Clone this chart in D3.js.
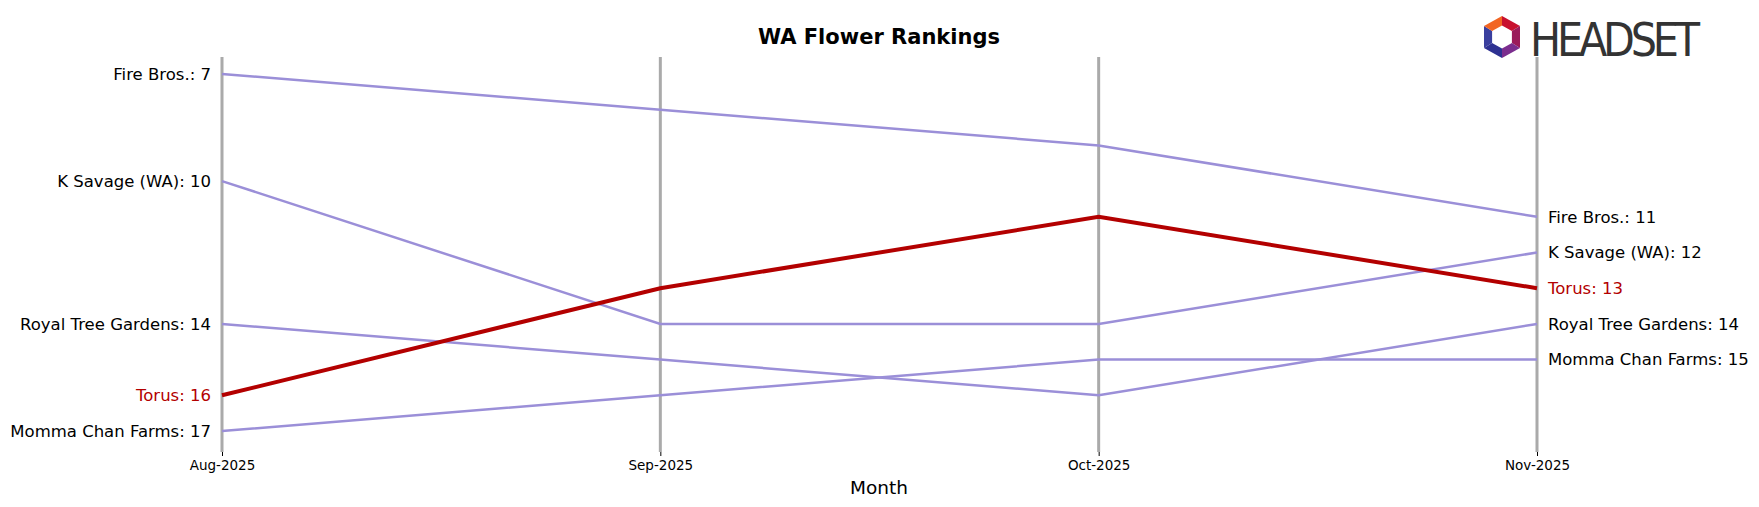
<!DOCTYPE html>
<html><head><meta charset="utf-8">
<script src="https://cdn.jsdelivr.net/npm/d3@7"></script>
<style>body{margin:0;background:#fff}svg{font-family:"DejaVu Sans",sans-serif}</style>
</head><body><svg id="c" width="1759" height="507"></svg>
<script>
const months=["Aug-2025","Sep-2025","Oct-2025","Nov-2025"];
const brands=["Fire Bros.","K Savage (WA)","Royal Tree Gardens","Momma Chan Farms","Torus"];
const fireBros=[7,8,9,11];
const kSavage=[10,14,14,12];
const royalTree=[14,15,16,14];
const mommaChan=[17,16,15,15];
const torus=[16,13,11,13];
const series=[fireBros,kSavage,royalTree,mommaChan,torus];
const highlight="Torus";

const svg=d3.select("#c");
const x=d3.scalePoint().domain(months).range([222,1537]);
const y=d3.scaleLinear().domain([7,17]).range([74,431]);

months.forEach(m=>svg.append("line").attr("x1",x(m)).attr("x2",x(m)).attr("y1",57).attr("y2",452)
  .attr("stroke","#aaa").attr("stroke-width",3));
const ax=svg.append("g").attr("transform","translate(0,452)").call(d3.axisBottom(x).tickSize(4).tickPadding(4));
ax.select(".domain").remove();
ax.selectAll("text").attr("font-size",13.5).attr("fill","#000").attr("font-family","DejaVu Sans");
svg.append("text").attr("x",879).attr("y",494).attr("text-anchor","middle").attr("font-size",18.5).text("Month");
svg.append("text").attr("x",879).attr("y",44).attr("text-anchor","middle").attr("font-size",21).attr("font-weight","bold").text("WA Flower Rankings");

const line=d3.line().x((d,i)=>x(months[i])).y(d=>y(d));
const order=brands.map((b,i)=>i).sort((a,b)=>(brands[a]===highlight)-(brands[b]===highlight));
order.forEach(i=>{
  const h=brands[i]===highlight;
  svg.append("path").datum(series[i]).attr("d",line).attr("fill","none")
    .attr("stroke",h?"#b30000":"#9b8fd8").attr("stroke-width",h?4:2.5);
});
brands.forEach((b,i)=>{
  const h=b===highlight, c=h?"#b30000":"#000";
  svg.append("text").attr("x",x(months[0])-11).attr("y",y(series[i][0])).attr("dy","0.35em")
    .attr("text-anchor","end").attr("font-size",16.5).attr("fill",c).text(b+": "+series[i][0]);
  svg.append("text").attr("x",x(months[3])+11).attr("y",y(series[i][3])).attr("dy","0.35em")
    .attr("font-size",16.5).attr("fill",c).text(b+": "+series[i][3]);
});
// logo
const lg=svg.append("g").attr("transform","translate(1502,37)");
const hex=[[0,-21],[18,-11],[18,11],[0,21],[-18,11],[-18,-11]];
const cols=["#c8102e","#9b1b5a","#7b2d8e","#2e3192","#3a3f9e","#f26522"];
for(let k=0;k<6;k++){const a=hex[k],b=hex[(k+1)%6];
  lg.append("path").attr("d",`M${a[0]*1},${a[1]}L${b[0]},${b[1]}L${b[0]*0.55},${b[1]*0.55}L${a[0]*0.55},${a[1]*0.55}Z`).attr("fill",cols[k]);}
svg.append("text").attr("x",1530).attr("y",56).attr("font-size",46).attr("font-family","DejaVu Sans Condensed, DejaVu Sans").attr("fill","#333").attr("textLength",170).text("HEADSET");
</script></body></html>
